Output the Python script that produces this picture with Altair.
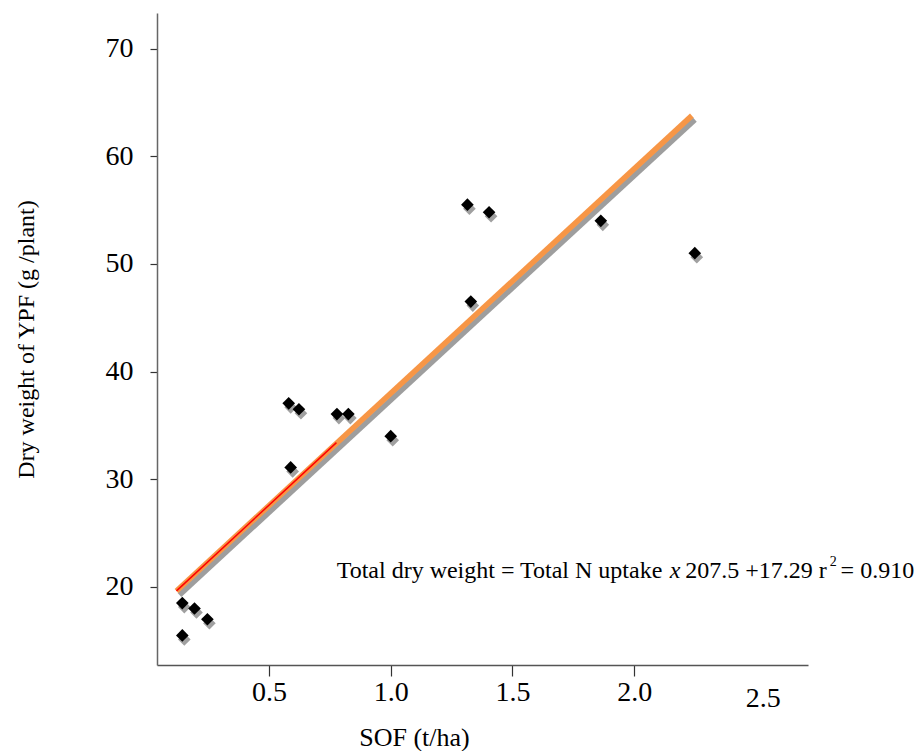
import altair as alt
import pandas as pd

# ---- data ----
sof = [0.144, 0.194, 0.247, 0.144, 0.581, 0.623, 0.589, 0.779, 0.826, 1.0,
       1.315, 1.329, 1.404, 1.863, 2.249]
dry_weight = [18.5, 18.0, 17.0, 15.5, 37.05, 36.5, 31.1, 36.05, 36.05, 34.0,
              55.5, 46.5, 54.8, 54.0, 51.0]

fit_x = [0.12, 2.237]
fit_y = [19.63, 63.77]
red_x = [0.12, 0.777]
red_y = [19.63, 33.4]

x_ticks = [0.5, 1.0, 1.5, 2.0]
y_ticks = [20, 30, 40, 50, 60, 70]

# annotation pieces (data coordinates)
ann_x = [0.778, 2.146, 2.21, 2.848]
ann_y = [20.84, 20.84, 20.84, 20.84]
ann_t = ["Total dry weight = Total N uptake ", "x", "207.5 +17.29 r", "= 0.910"]
ann_style = ["normal", "italic", "normal", "normal"]
sup_x = [2.803]
sup_y = [21.9]
sup_t = ["2"]
extra_x = [2.53]
extra_y = [9.6]
extra_t = ["2.5"]

FONT = "Liberation Serif"

xs = alt.Scale(domain=[0.04, 2.714], nice=False, zero=False)
ys = alt.Scale(domain=[12.75, 73.3], nice=False, zero=False)

x_axis = alt.Axis(values=x_ticks, format=".1f", grid=False, tickSize=11,
                  labelFontSize=28, labelFont=FONT, labelColor="black",
                  labelPadding=2, tickColor="#333", domainColor="#555",
                  domainWidth=1.5, tickWidth=1.2,
                  title="SOF (t/ha)", titleFont=FONT, titleFontSize=26,
                  titleFontWeight="normal", titleColor="black",
                  titleX=257, titleY=80, titleAlign="center",
                  titleBaseline="alphabetic", labelFlush=False)
y_axis = alt.Axis(values=y_ticks, format="d", grid=False, tickSize=7,
                  labelFontSize=28, labelFont=FONT, labelColor="black",
                  labelPadding=17, tickColor="#333", domainColor="#666",
                  domainWidth=1.5, tickWidth=1.2,
                  title="Dry weight of YPF (g /plant)", titleFont=FONT,
                  titleFontSize=24, titleFontWeight="normal", titleColor="black",
                  titleX=-124, titleY=326, titleAlign="center",
                  titleBaseline="alphabetic", titleAngle=270, labelFlush=False)


def X():
    return alt.X("x:Q", scale=xs, axis=x_axis)


def Y():
    return alt.Y("y:Q", scale=ys, axis=y_axis)


pts = pd.DataFrame({"x": sof, "y": dry_weight})
fit = pd.DataFrame({"x": fit_x, "y": fit_y})
red = pd.DataFrame({"x": red_x, "y": red_y})
ann = pd.DataFrame({"x": ann_x, "y": ann_y, "t": ann_t, "s": ann_style})
sup = pd.DataFrame({"x": sup_x, "y": sup_y, "t": sup_t})
extra = pd.DataFrame({"x": extra_x, "y": extra_y, "t": extra_t})

shadow_line = alt.Chart(fit).mark_line(color="#9e9e9e", strokeWidth=5.5,
                                       xOffset=3, yOffset=4).encode(x=X(), y=Y())
orange_line = alt.Chart(fit).mark_line(color="#F79646", strokeWidth=5.5,
                                       strokeCap="butt").encode(x=X(), y=Y())
red_line = alt.Chart(red).mark_line(color="#FF0000", strokeWidth=1.5).encode(x=X(), y=Y())

pt_shadow = alt.Chart(pts).mark_point(shape="diamond", filled=True, size=160,
                                      color="#a0a0a0", opacity=1,
                                      xOffset=2, yOffset=4).encode(x=X(), y=Y())
pt = alt.Chart(pts).mark_point(shape="diamond", filled=True, size=160,
                               color="black", opacity=1).encode(x=X(), y=Y())

ann_normal = alt.Chart(ann[ann.s == "normal"]).mark_text(
    align="left", baseline="alphabetic", font=FONT, fontSize=24, color="black"
).encode(x=X(), y=Y(), text="t:N")
ann_italic = alt.Chart(ann[ann.s == "italic"]).mark_text(
    align="left", baseline="alphabetic", font=FONT, fontSize=24, color="black",
    fontStyle="italic"
).encode(x=X(), y=Y(), text="t:N")
sup_text = alt.Chart(sup).mark_text(
    align="left", baseline="alphabetic", font=FONT, fontSize=14, color="black"
).encode(x=X(), y=Y(), text="t:N")
extra_text = alt.Chart(extra).mark_text(
    align="center", baseline="middle", font=FONT, fontSize=28, color="black"
).encode(x=X(), y=Y(), text="t:N")

chart = alt.layer(
    shadow_line, orange_line, red_line, pt_shadow, pt,
    ann_normal, ann_italic, sup_text, extra_text
).properties(
    width=651, height=652,
    autosize=alt.AutoSizeParams(type="none"),
    padding={"left": 157, "top": 13, "right": 113, "bottom": 86},
    background="white"
).configure_view(stroke=None)

chart.save("out.html", embed_options={"renderer": "svg", "actions": False})
